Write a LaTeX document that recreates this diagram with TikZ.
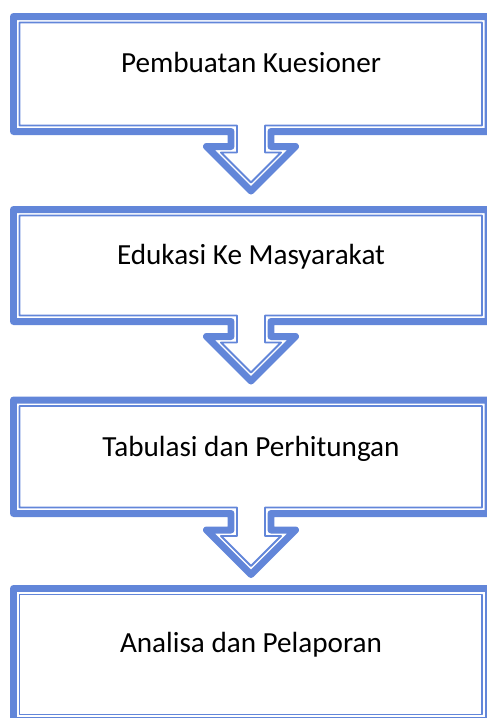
\documentclass[tikz,border=0pt]{standalone}
\usepackage{fontspec}
\setmainfont{Carlito}
\definecolor{FlowBlue}{HTML}{6286D9}

\begin{document}
\begin{tikzpicture}[x=0.02cm, y=-0.02cm,
      outerline/.style={FlowBlue, line width=3.98pt, line join=round},
      innerline/.style={FlowBlue, line width=1.1pt, line join=round},
      steptext/.style={anchor=base, font=\fontsize{16.6}{20}\selectfont}]
      \useasboundingbox (0,0) rectangle (487,718);
      % Callout 1
      \draw[outerline] (13.5,16.5) -- (488,16.5) -- (488,131.5) -- (271,131.5) -- (271,146.5) -- (295.5,146.5) -- (251,191) -- (206.5,146.5) -- (231,146.5) -- (231,131.5) -- (13.5,131.5) -- cycle;
      \draw[innerline] (19.5,22.5) -- (482,22.5) -- (482,125.5) -- (265,125.5) -- (265,152.5) -- (281,152.5) -- (251,182.5) -- (221,152.5) -- (237,152.5) -- (237,125.5) -- (19.5,125.5) -- cycle;
      \node[steptext] (kuesioner) at (251,72) {Pembuatan Kuesioner};
      % Callout 2
      \draw[outerline] (13.5,209.5) -- (488,209.5) -- (488,321.5) -- (271,321.5) -- (271,336.5) -- (295.5,336.5) -- (251,381) -- (206.5,336.5) -- (231,336.5) -- (231,321.5) -- (13.5,321.5) -- cycle;
      \draw[innerline] (19.5,215.5) -- (482,215.5) -- (482,315.5) -- (265,315.5) -- (265,342.5) -- (281,342.5) -- (251,372.5) -- (221,342.5) -- (237,342.5) -- (237,315.5) -- (19.5,315.5) -- cycle;
      \node[steptext] (edukasi) at (251,264.5) {Edukasi Ke Masyarakat};
      % Callout 3
      \draw[outerline] (13.5,400) -- (488,400) -- (488,513.5) -- (271,513.5) -- (271,530) -- (295.5,530) -- (251,574.5) -- (206.5,530) -- (231,530) -- (231,513.5) -- (13.5,513.5) -- cycle;
      \draw[innerline] (19.5,406) -- (482,406) -- (482,507.5) -- (265,507.5) -- (265,536) -- (281,536) -- (251,566) -- (221,536) -- (237,536) -- (237,507.5) -- (19.5,507.5) -- cycle;
      \node[steptext] (tabulasi) at (251,456.5) {Tabulasi dan Perhitungan};
      % Last box
      \draw[outerline] (13.5,588.5) rectangle (488,720.5);
      \draw[innerline] (19.5,594.5) rectangle (482,714.5);
      \node[steptext] (analisa) at (251,652) {Analisa dan Pelaporan};
   \end{tikzpicture}
\end{document}
